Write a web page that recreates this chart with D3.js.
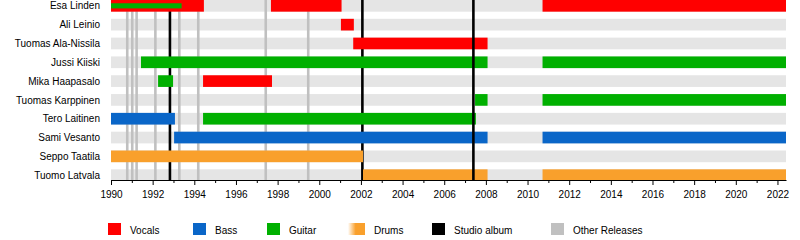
<!DOCTYPE html>
<html>
<head>
<meta charset="utf-8">
<script src="https://cdn.jsdelivr.net/npm/d3@7"></script>
<style>
  body { margin: 0; background: #fff; }
  text { font-family: "Liberation Sans", Arial, sans-serif; }
</style>
</head>
<body>
<div id="chart"></div>
<script>
// band members, top to bottom
var members = ["Esa Linden", "Ali Leinio", "Tuomas Ala-Nissila", "Jussi Kiiski",
  "Mika Haapasalo", "Tuomas Karppinen", "Tero Laitinen", "Sami Vesanto",
  "Seppo Taatila", "Tuomo Latvala"];

var START = 1990, END = 2022.41;

// periods per role: [member, from, to]
var vocals = [
  ["Esa Linden", 1990, 1994.46], ["Esa Linden", 1997.68, 2001.07], ["Esa Linden", 2010.72, END],
  ["Ali Leinio", 2001.04, 2001.66],
  ["Tuomas Ala-Nissila", 2001.63, 2008.08],
  ["Mika Haapasalo", 1994.42, 1997.73]
];
var bass = [
  ["Tero Laitinen", 1990, 1993.07],
  ["Sami Vesanto", 1993.03, 2008.08], ["Sami Vesanto", 2010.72, END]
];
var guitar = [
  ["Jussi Kiiski", 1991.44, 2008.08], ["Jussi Kiiski", 2010.72, END],
  ["Mika Haapasalo", 1992.26, 1992.98],
  ["Tuomas Karppinen", 2007.48, 2008.08], ["Tuomas Karppinen", 2010.72, END],
  ["Tero Laitinen", 1994.42, 2007.52]
];
// secondary role drawn as a thin bar
var guitarThin = [["Esa Linden", 1990, 1993.39]];
var drums = [
  ["Seppo Taatila", 1990, 2002.1],
  ["Tuomo Latvala", 2002.1, 2008.08], ["Tuomo Latvala", 2010.72, END]
];

// release dates
var albumsBack = [1992.83, 2002.07];
var albumsFront = [2007.4];
var otherReleases = [1990.78, 1991.02, 1991.23, 1992.13, 1993.28, 1994.19, 1997.43, 1999.47];

var majorYears = d3.range(1990, 2023, 2);
var minorYears = d3.range(1991, 2023, 2);

var legendLabels = ["Vocals", "Bass", "Guitar", "Drums", "Studio album", "Other Releases"];

var colors = {
  Vocals: "#ff0000", Bass: "#0a66c8", Guitar: "#00b000", Drums: "#f9a02c",
  "Studio album": "#000000", "Other Releases": "#c0c0c0"
};

var W = 800, H = 240;
var svg = d3.select("#chart").append("svg")
  .attr("width", W).attr("height", H);

var x = d3.scaleLinear().domain([START, END]).range([111, 786]);
var y = d3.scaleBand().domain(members).range([0, 181])
  .paddingInner(0.38).paddingOuter(0);
var bh = y.bandwidth();

// row backgrounds
svg.append("g").selectAll("rect")
  .data(members)
  .enter().append("rect")
  .attr("x", x(START))
  .attr("width", x(END) - x(START))
  .attr("y", function (d) { return y(d); })
  .attr("height", bh)
  .attr("fill", "#e5e5e5");

function vlines(g, data, color, w) {
  g.selectAll("line")
    .data(data)
    .enter().append("line")
    .attr("x1", function (d) { return x(d); })
    .attr("x2", function (d) { return x(d); })
    .attr("y1", 0)
    .attr("y2", 180)
    .attr("stroke", color)
    .attr("stroke-width", w);
}

vlines(svg.append("g"), otherReleases, colors["Other Releases"], 2.6);
vlines(svg.append("g"), albumsBack, colors["Studio album"], 2.6);

function bars(data, color, thin) {
  svg.append("g").selectAll("rect")
    .data(data)
    .enter().append("rect")
    .attr("x", function (d) { return x(d[1]); })
    .attr("width", function (d) { return x(d[2]) - x(d[1]); })
    .attr("y", function (d) { return y(d[0]) + (thin ? bh * 0.28 : 0); })
    .attr("height", thin ? bh * 0.44 : bh)
    .attr("fill", color);
}

bars(vocals, colors.Vocals);
bars(bass, colors.Bass);
bars(guitar, colors.Guitar);
bars(drums, colors.Drums);
bars(guitarThin, colors.Guitar, true);

vlines(svg.append("g"), albumsFront, colors["Studio album"], 2.6);

// member names
svg.append("g").selectAll("text")
  .data(members)
  .enter().append("text")
  .attr("x", 100)
  .attr("y", function (d) { return y(d) + bh / 2; })
  .attr("dy", "0.36em")
  .attr("text-anchor", "end")
  .attr("font-size", 10)
  .attr("fill", "#000")
  .text(function (d) { return d; });

// axis
var axis = svg.append("g")
  .attr("transform", "translate(0,180)")
  .call(d3.axisBottom(x).tickValues(majorYears).tickFormat(d3.format("d"))
    .tickSize(5).tickSizeOuter(0).tickPadding(6));
axis.selectAll("text").attr("font-size", 10).attr("font-family", "Liberation Sans, Arial, sans-serif");
axis.select(".domain").attr("stroke-width", 1.2);

svg.append("g")
  .attr("transform", "translate(0,180)")
  .call(d3.axisBottom(x).tickValues(minorYears).tickFormat("")
    .tickSize(3).tickSizeOuter(0))
  .select(".domain").remove();

// legend
var defs = svg.append("defs");
var grad = defs.append("linearGradient").attr("id", "drumfade");
grad.append("stop").attr("offset", "0%").attr("stop-color", "#fff");
grad.append("stop").attr("offset", "45%").attr("stop-color", colors.Drums);
grad.append("stop").attr("offset", "100%").attr("stop-color", colors.Drums);

var legendX = [108, 193, 267, 348, 432, 551];
var lg = svg.append("g").selectAll("g")
  .data(legendLabels)
  .enter().append("g")
  .attr("transform", function (d, i) { return "translate(" + legendX[i] + ",223)"; });

lg.append("rect")
  .attr("width", function (d) { return d === "Drums" ? 17 : 13; })
  .attr("height", 12)
  .attr("fill", function (d) { return d === "Drums" ? "url(#drumfade)" : colors[d]; });

lg.append("text")
  .attr("x", function (d) { return d === "Drums" ? 26 : 22; })
  .attr("y", 11)
  .attr("font-size", 10)
  .attr("fill", "#000")
  .text(function (d) { return d; });
</script>
</body>
</html>
